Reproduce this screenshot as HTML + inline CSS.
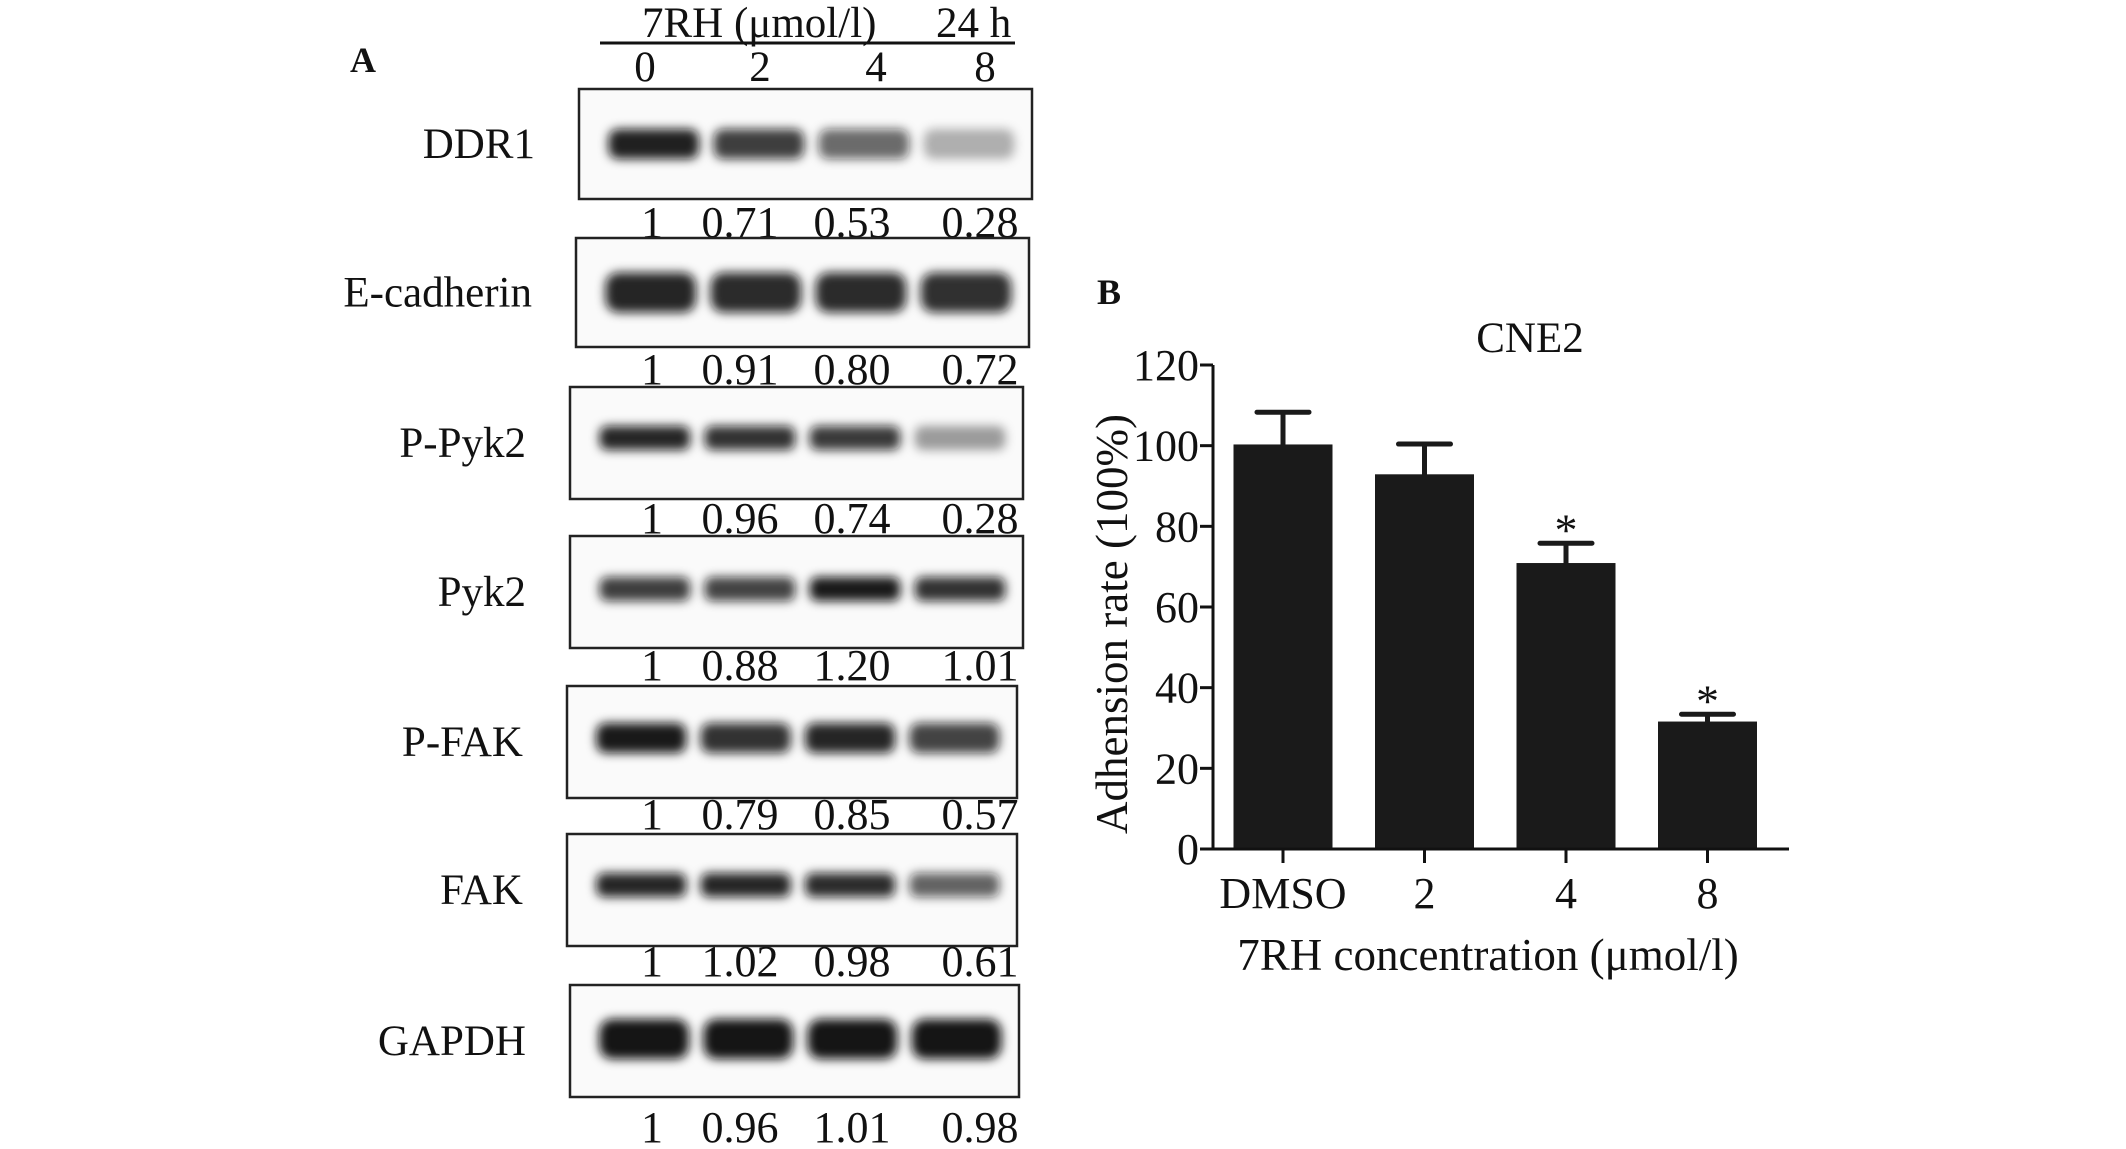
<!DOCTYPE html>
<html><head><meta charset="utf-8"><style>
html,body{margin:0;padding:0;background:#fff;width:2126px;height:1149px;overflow:hidden}
svg{display:block}
text{font-family:"Liberation Serif",serif;fill:#111}
</style></head><body>
<svg id="fig" width="2126" height="1149" viewBox="0 0 2126 1149">
<defs>
<filter id="blur" x="-20%" y="-50%" width="140%" height="200%"><feGaussianBlur stdDeviation="5"/></filter>
</defs>
<g id="panelA">
<text x="350" y="72" font-size="36" font-weight="bold">A</text>
<text x="642" y="37" font-size="43">7RH (μmol/l)</text>
<text x="936" y="37" font-size="43">24 h</text>
<line x1="600" y1="43" x2="1015" y2="43" stroke="#111" stroke-width="3"/>
</g>
<g id="panelB"></g>
</svg>
<script>
// ---- Panel A data ----
const laneLabels = ["0","2","4","8"];
const blotNames = ["DDR1","E-cadherin","P-Pyk2","Pyk2","P-FAK","FAK","GAPDH"];
const quantDDR1 = ["1","0.71","0.53","0.28"];
const quantEcad = ["1","0.91","0.80","0.72"];
const quantPPyk2 = ["1","0.96","0.74","0.28"];
const quantPyk2 = ["1","0.88","1.20","1.01"];
const quantPFAK = ["1","0.79","0.85","0.57"];
const quantFAK = ["1","1.02","0.98","0.61"];
const quantGAPDH = ["1","0.96","1.01","0.98"];
const quants = [quantDDR1,quantEcad,quantPPyk2,quantPyk2,quantPFAK,quantFAK,quantGAPDH];
const bandDDR1 = [0.92,0.8,0.62,0.3];
const bandEcad = [0.9,0.88,0.88,0.86];
const bandPPyk2 = [0.9,0.85,0.82,0.38];
const bandPyk2 = [0.8,0.78,0.95,0.85];
const bandPFAK = [0.95,0.85,0.9,0.78];
const bandFAK = [0.9,0.9,0.88,0.65];
const bandGAPDH = [0.97,0.97,0.97,0.97];
const bands = [bandDDR1,bandEcad,bandPPyk2,bandPyk2,bandPFAK,bandFAK,bandGAPDH];

// ---- Panel B data ----
const categories = ["DMSO","2","4","8"];
const adhesion = [100.3,92.9,70.9,31.6];
const adhesionErr = [8.0,7.5,4.9,1.8];
const significant = [false,false,true,true];
const yTicks = [0,20,40,60,80,100,120];

const NS="http://www.w3.org/2000/svg";
function mk(tag,attrs,parent,txt){const e=document.createElementNS(NS,tag);for(const k in attrs)e.setAttribute(k,attrs[k]);if(txt!==undefined)e.textContent=txt;parent.appendChild(e);return e;}

// Panel A layout
const A=document.getElementById('panelA');
const laneX=[645,760,876,985];
laneLabels.forEach((l,i)=>{
  const t=mk('text',{x:laneX[i],y:81,'font-size':43,'text-anchor':'middle'},A,l);
  
  
});
const boxes=[[579,89,1032,199],[576,238,1029,347],[570,387,1023,499],[570,536,1023,648],[567,686,1017,798],[567,834,1017,946],[570,985,1019,1097]];
const bandH=[30,40,24,24,30,24,40];
const bandYOff=[0,0,-5,-3,-4,-5,-2];
const quantY=[237,384,533,680,829,976,1142];
const quantX=[652,740,852,980];
blotNames.forEach((name,r)=>{
  const [x1,y1,x2,y2]=boxes[r];
  const g=mk('g',{},A);
  
  
  const lbl=mk('text',{x:x1-44,y:(y1+y2)/2+14,'font-size':43,'text-anchor':'end'},g,name);
  
  
  const rc=mk('rect',{x:x1,y:y1,width:x2-x1,height:y2-y1,fill:'#fafafa',stroke:'#222','stroke-width':2.5},g);
  
  
  const w=x2-x1, cy=(y1+y2)/2+bandYOff[r];
  bands[r].forEach((v,i)=>{
    const cx=x1+w*(0.165+0.232*i);
    const b=mk('rect',{x:cx-w*0.1,y:cy-bandH[r]/2,width:w*0.2,height:bandH[r],rx:bandH[r]/3,fill:'#111','fill-opacity':v,filter:'url(#blur)'},g);
    
    
  });
  quants[r].forEach((q,i)=>{
    const t=mk('text',{x:quantX[i],y:quantY[r],'font-size':44,'text-anchor':'middle'},g,q);
    
    
  });
});

// Panel B chart
const B=document.getElementById('panelB');
const X0=1213, Y0=849, Ytop=365, XEND=1789;
const yScale=v=>Y0-(v/120)*(Y0-Ytop);
const xCenter=i=>1283+i*141.5;
const barW=99;
let t;
t=mk('text',{x:1097,y:304,'font-size':36,'font-weight':'bold'},B,'B');


t=mk('text',{x:1530,y:352,'font-size':43,'text-anchor':'middle'},B,'CNE2');


adhesion.forEach((v,i)=>{
  const cx=xCenter(i);
  const r=mk('rect',{x:cx-barW/2,y:yScale(v),width:barW,height:Y0-yScale(v),fill:'#1a1a1a'},B);
  
  
  const top=yScale(v+adhesionErr[i]);
  const e=mk('path',{d:`M${cx},${yScale(v)} V${top} M${cx-26},${top} H${cx+26}`,stroke:'#1a1a1a','stroke-width':5,'stroke-linecap':'round',fill:'none'},B);
  
  
  if(significant[i]){
    const s=mk('text',{x:cx,y:top+2,'font-size':46,'text-anchor':'middle'},B,'*');
    
    
  }
  const tk=mk('line',{x1:cx,y1:Y0,x2:cx,y2:Y0+14,stroke:'#111','stroke-width':3},B);
  
  
  const lb=mk('text',{x:cx,y:908,'font-size':44,'text-anchor':'middle'},B,categories[i]);
  
  
});
yTicks.forEach(v=>{
  const y=yScale(v);
  const l=mk('line',{x1:X0-13,y1:y,x2:X0,y2:y,stroke:'#111','stroke-width':3},B);
  
  
  const lb=mk('text',{x:X0-14,y:y+15,'font-size':44,'text-anchor':'end'},B,String(v));
  
  
});
const ya=mk('line',{x1:X0,y1:Ytop,x2:X0,y2:Y0+1.5,stroke:'#111','stroke-width':3},B);


const xa=mk('line',{x1:X0-10,y1:Y0,x2:XEND,y2:Y0,stroke:'#111','stroke-width':3},B);


t=mk('text',{x:1488,y:970,'font-size':45,'text-anchor':'middle'},B,'7RH concentration (μmol/l)');


t=mk('text',{x:0,y:0,'font-size':45,'text-anchor':'middle',transform:'translate(1127,624) rotate(-90)'},B,'Adhension rate (100%)');


</script>
</body></html>
